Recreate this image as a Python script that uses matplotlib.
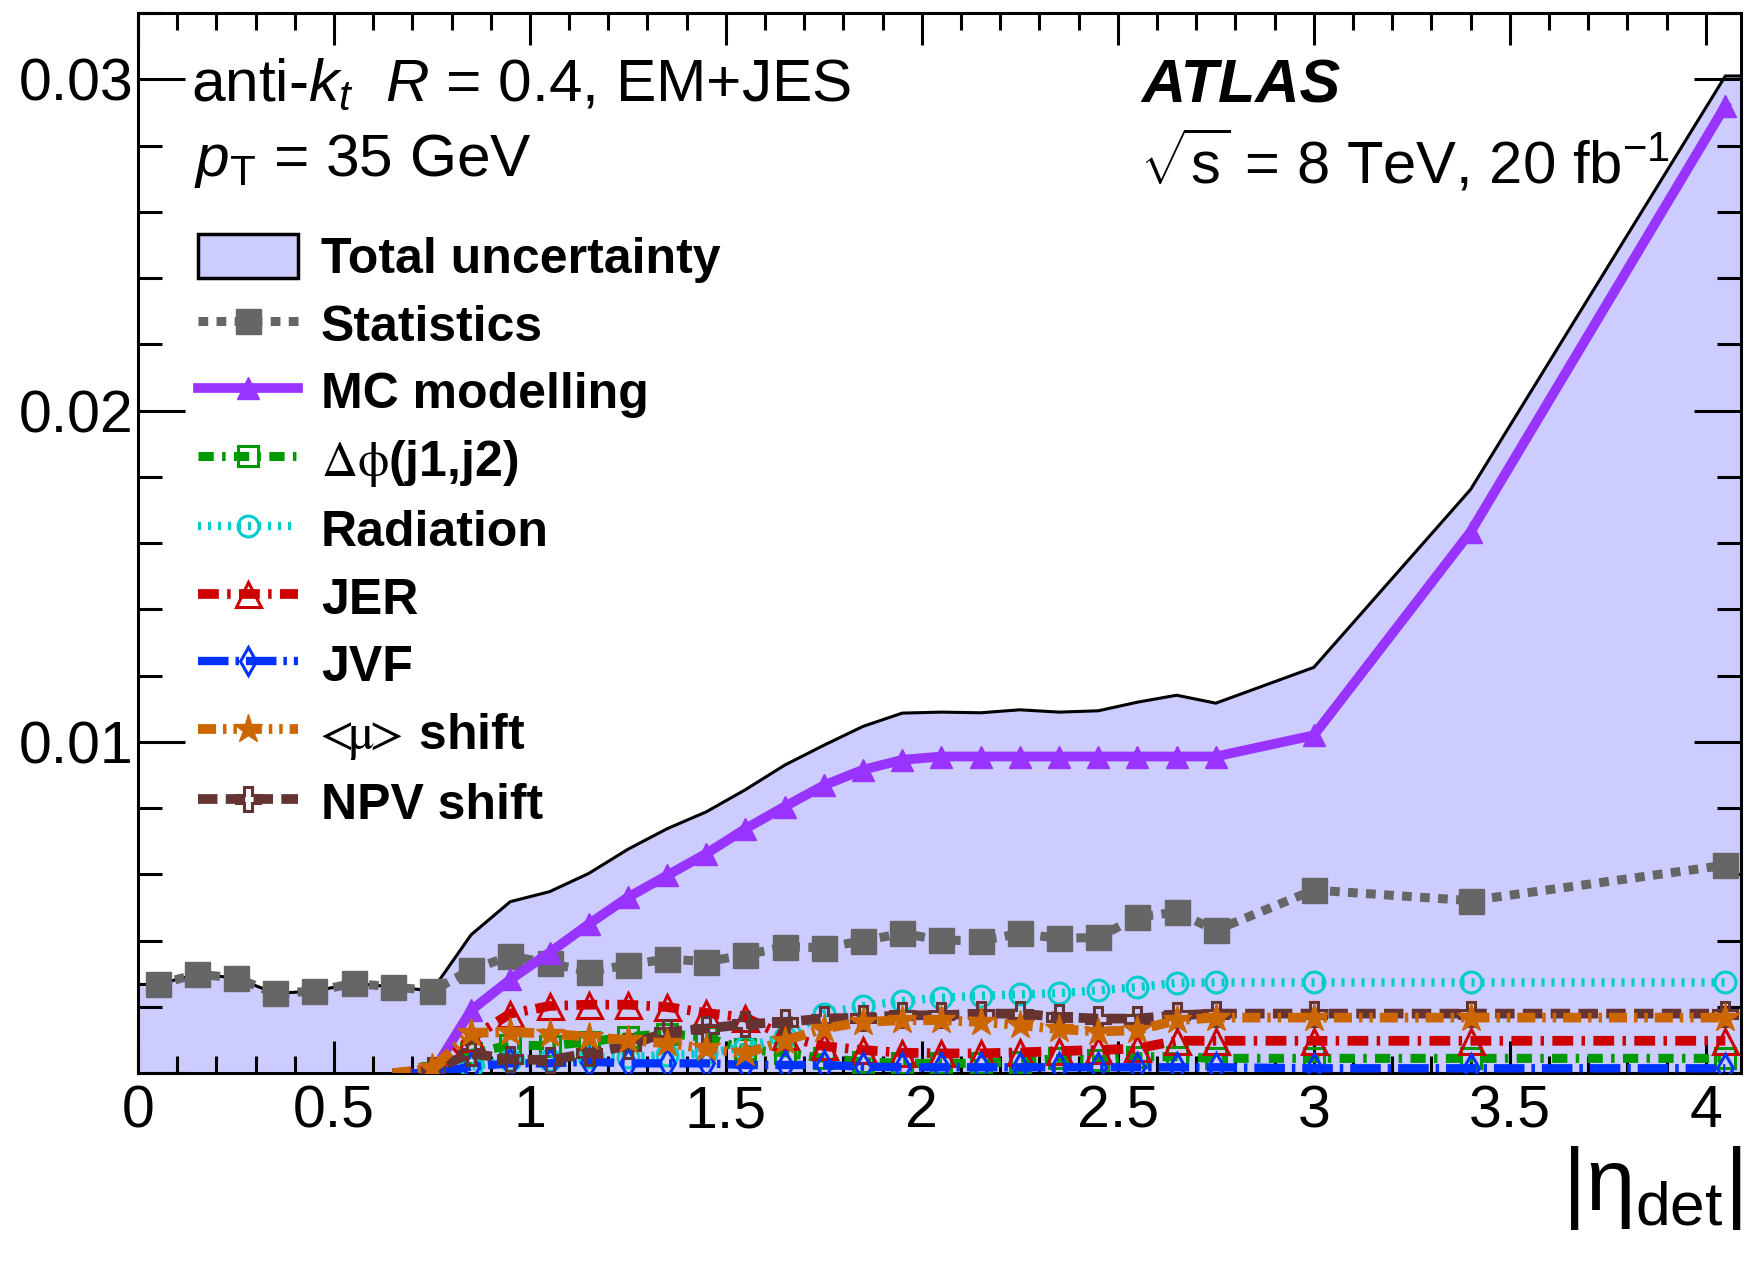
import matplotlib
matplotlib.use("Agg")
import matplotlib.pyplot as plt
from matplotlib.patches import Patch
from matplotlib.ticker import MultipleLocator, FuncFormatter
from matplotlib.font_manager import FontProperties
import numpy as np

plt.rcParams['font.family'] = ['Liberation Sans', 'DejaVu Sans']
plt.rcParams['mathtext.fontset'] = 'custom'
plt.rcParams['mathtext.rm'] = 'Liberation Sans'
plt.rcParams['mathtext.it'] = 'Liberation Sans:italic'
plt.rcParams['mathtext.bf'] = 'Liberation Sans:bold'
plt.rcParams['lines.scale_dashes'] = False

# ---------------- data ----------------
eta = [0.05, 0.15, 0.25, 0.35, 0.45, 0.55, 0.65, 0.75, 0.85, 0.95,
       1.05, 1.15, 1.25, 1.35, 1.45, 1.55, 1.65, 1.75, 1.85, 1.95,
       2.05, 2.15, 2.25, 2.35, 2.45, 2.55, 2.65, 2.75, 3.0, 3.4, 4.05]
total = [0.00268, 0.00299, 0.00288, 0.00241, 0.00248, 0.00271, 0.00261, 0.00249, 0.00418, 0.00518,
         0.00548, 0.00603, 0.00676, 0.00738, 0.00789, 0.00856, 0.00930, 0.00990, 0.01047, 0.01087,
         0.01090, 0.01088, 0.01097, 0.01090, 0.01094, 0.01120, 0.01141, 0.01117, 0.01225, 0.01762, 0.03010]
stats = [0.00268, 0.00299, 0.00288, 0.00241, 0.00248, 0.00271, 0.00261, 0.00249, 0.00312, 0.00354,
         0.00332, 0.00307, 0.00327, 0.00345, 0.00337, 0.00357, 0.00382, 0.00379, 0.00400, 0.00422,
         0.00402, 0.00400, 0.00422, 0.00407, 0.00410, 0.00472, 0.00486, 0.00432, 0.00553, 0.00521, 0.00628]

eta_mc = [0.75, 0.85, 0.95, 1.05, 1.15, 1.25, 1.35, 1.45, 1.55, 1.65, 1.75, 1.85, 1.95,
          2.05, 2.15, 2.25, 2.35, 2.45, 2.55, 2.65, 2.75, 3.0, 3.4, 4.05]
mc = [0.0, 0.00190, 0.00283, 0.00364, 0.00450, 0.00531, 0.00597, 0.00663, 0.00738, 0.00805, 0.00869, 0.00916, 0.00946,
      0.00956, 0.00956, 0.00956, 0.00956, 0.00956, 0.00956, 0.00956, 0.00956, 0.01020, 0.01634, 0.02920]

eta_sys = [0.65, 0.75, 0.85, 0.95, 1.05, 1.15, 1.25, 1.35, 1.45, 1.55, 1.65, 1.75, 1.85, 1.95,
           2.05, 2.15, 2.25, 2.35, 2.45, 2.55, 2.65, 2.75, 3.0, 3.4, 4.05]
dphi = [0.0, 0.0, 0.00060, 0.00085, 0.00083, 0.00095, 0.00110, 0.00120, 0.00108, 0.00072, 0.00062, 0.00045, 0.00035, 0.00030,
        0.00030, 0.00030, 0.00035, 0.00045, 0.00040, 0.00050, 0.00050, 0.00045, 0.00045, 0.00045, 0.00045]
rad = [0.0, 0.0, 0.00020, 0.00040, 0.00040, 0.00050, 0.00050, 0.00055, 0.00060, 0.00080, 0.00110, 0.00180, 0.00203, 0.00218,
       0.00228, 0.00234, 0.00238, 0.00242, 0.00250, 0.00260, 0.00273, 0.00274, 0.00274, 0.00274, 0.00274]
jer = [0.0, 0.0, 0.00106, 0.00180, 0.00203, 0.00207, 0.00207, 0.00200, 0.00182, 0.00168, 0.00112, 0.00082, 0.00070, 0.00062,
       0.00060, 0.00060, 0.00063, 0.00067, 0.00070, 0.00075, 0.00098, 0.00098, 0.00098, 0.00098, 0.00098]
jvf = [0.0, 0.0, 0.00020, 0.00030, 0.00030, 0.00035, 0.00030, 0.00030, 0.00030, 0.00025, 0.00025, 0.00025, 0.00020, 0.00018,
       0.00018, 0.00018, 0.00018, 0.00018, 0.00018, 0.00018, 0.00018, 0.00018, 0.00015, 0.00015, 0.00015]
mu = [0.0, 0.00015, 0.00122, 0.00124, 0.00120, 0.00110, 0.00100, 0.00090, 0.00075, 0.00060, 0.00098, 0.00135, 0.00155, 0.00160,
      0.00160, 0.00155, 0.00145, 0.00133, 0.00126, 0.00130, 0.00160, 0.00168, 0.00168, 0.00168, 0.00168]
npv = [0.0, 0.00010, 0.00060, 0.00042, 0.00040, 0.00060, 0.00083, 0.00125, 0.00135, 0.00148, 0.00155, 0.00165, 0.00168, 0.00175,
       0.00175, 0.00180, 0.00180, 0.00170, 0.00165, 0.00165, 0.00175, 0.00180, 0.00180, 0.00180, 0.00180]

x_min, x_max = 0.0, 4.09
y_min, y_max = 0.0, 0.0320

labels = ['Total uncertainty', 'Statistics', 'MC modelling', r'$\Delta\mathrm{\phi}$(j1,j2)', 'Radiation',
          'JER', 'JVF', r'$\!\!<\!\!\mathrm{\mu}\!\!>\!$ shift', 'NPV shift']

# ---------------- figure ----------------
fig = plt.figure(figsize=(17.44, 12.64), dpi=100)
ax = fig.add_axes([0.0791, 0.1509, 0.9192, 0.8388])

tx = [x_min] + eta + [x_max]
ty = [total[0]] + total + [total[-1]]
ax.fill_between(tx, 0, ty, color='#CCCCFF', lw=0, zorder=1)
ax.plot(tx, ty, color='black', lw=2.2, zorder=2)

mk_sys = list(range(1, len(eta_sys)))

h_stats, = ax.plot(eta, stats, color='#666666', lw=6.5, ls=(0, (7, 6)), marker='s', ms=18,
                   mec='#666666', mfc='#666666', zorder=3)
h_mc, = ax.plot(eta_mc, mc, color='#9933FF', lw=7, ls='-', marker='^', ms=16,
                mec='#9933FF', mfc='#9933FF', zorder=4)
h_dphi, = ax.plot(eta_sys, dphi, color='#009900', lw=6.5, ls=(0, (11, 6, 2.5, 6)), marker='s', ms=15,
                  mfc='none', mec='#009900', mew=2.2, markevery=mk_sys, zorder=5)
h_rad, = ax.plot(eta_sys, rad, color='#00CCCC', lw=6, ls=(0, (2.2, 5)), marker='o', ms=15,
                 mfc='none', mec='#00CCCC', mew=2.2, markevery=mk_sys, zorder=6)
h_jer, = ax.plot(eta_sys, jer, color='#CC0000', lw=7, ls=(0, (15, 6, 2.5, 6)), marker='^', ms=18,
                 mfc='none', mec='#CC0000', mew=2.2, markevery=mk_sys, zorder=7)
h_jvf, = ax.plot(eta_sys, jvf, color='#0033FF', lw=6, ls=(0, (22, 5, 2.5, 5)), marker='d', ms=14,
                 mfc='none', mec='#0033FF', mew=2.2, markevery=mk_sys, zorder=8)
h_npv, = ax.plot(eta_sys, npv, color='#663333', lw=7, ls=(0, (14, 6)), marker='P', ms=17,
                 mfc='none', mec='#663333', mew=2.2, markevery=mk_sys, zorder=9)
h_mu, = ax.plot(eta_sys, mu, color='#CC6600', lw=7, ls=(0, (13, 5, 2.5, 5, 2.5, 5)), marker='*', ms=21,
                mec='#CC6600', mfc='#CC6600', markevery=mk_sys, zorder=10)

ax.set_xlim(x_min, x_max)
ax.set_ylim(y_min, y_max)

ax.xaxis.set_major_locator(MultipleLocator(0.5))
ax.xaxis.set_minor_locator(MultipleLocator(0.1))
ax.yaxis.set_major_locator(MultipleLocator(0.01))
ax.yaxis.set_minor_locator(MultipleLocator(0.002))
ax.xaxis.set_major_formatter(FuncFormatter(lambda v, p: f'{v:g}'))
ax.yaxis.set_major_formatter(FuncFormatter(lambda v, p: '' if abs(v) < 1e-9 else f'{v:g}'))

ax.tick_params(axis='both', which='both', direction='in', top=True, right=True, width=2.2,
               labelsize=42.5)
ax.tick_params(axis='x', which='major', length=23, pad=8)
ax.tick_params(axis='x', which='minor', length=12)
ax.tick_params(axis='y', which='major', length=34, pad=3)
ax.tick_params(axis='y', which='minor', length=17)
for s in ax.spines.values():
    s.set_linewidth(2.2)

ax.set_xlabel(r'$|\mathrm{\eta}_{\rm det}|$', fontsize=64, loc='right', labelpad=3)

# annotations
ax.text(0.033, 0.917, r'anti-$k_{t}$  $R$ = 0.4, EM+JES', transform=ax.transAxes, fontsize=43.5,
        ha='left', va='baseline')
ax.text(0.035, 0.846, r'$p_{\rm T}$ = 35 GeV', transform=ax.transAxes, fontsize=43.5,
        ha='left', va='baseline')
ax.text(0.626, 0.916, 'ATLAS', transform=ax.transAxes, fontsize=44, fontweight='bold',
        fontstyle='italic', ha='left', va='baseline')
ax.text(0.625, 0.839, r'$\sqrt{\mathrm{s}}$ = 8 TeV, 20 fb$^{-1}$', transform=ax.transAxes, fontsize=43,
        ha='left', va='baseline')

handles = [Patch(facecolor='#CCCCFF', edgecolor='black', lw=2.5), h_stats, h_mc, h_dphi, h_rad,
           h_jer, h_jvf, h_mu, h_npv]
leg = ax.legend(handles, labels, loc='upper left', bbox_to_anchor=(0.0374, 0.792), frameon=False,
                prop=FontProperties(family='Liberation Sans', weight='bold', size=36),
                handlelength=2.0, handletextpad=0.46, labelspacing=0.36, borderpad=0,
                borderaxespad=0, handleheight=1.0, numpoints=1)
for t in leg.get_texts():
    t.set_math_fontfamily('stix')

fig.savefig('out.png', dpi=100)
